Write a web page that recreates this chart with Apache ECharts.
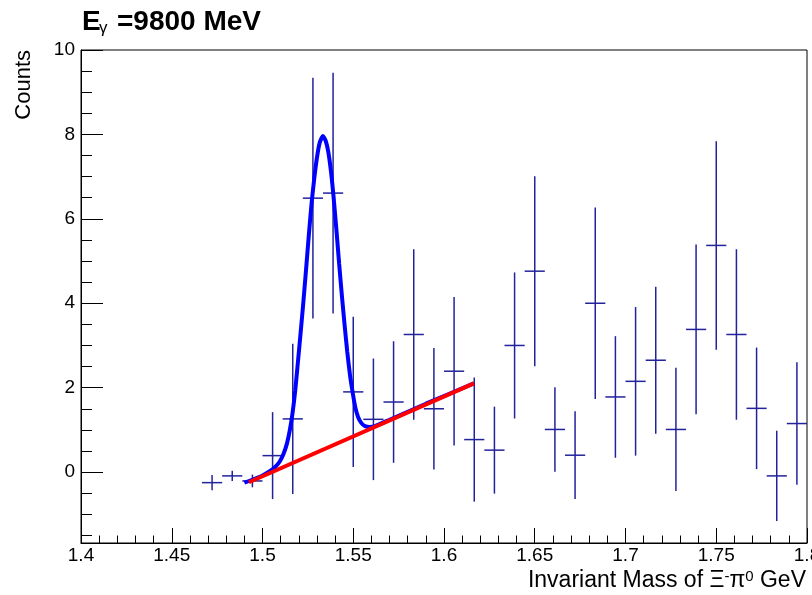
<!DOCTYPE html>
<html><head><meta charset="utf-8">
<script src="https://cdn.jsdelivr.net/npm/echarts@6/dist/echarts.min.js"></script>
<style>html,body{margin:0;padding:0;background:#fff}#c{width:812px;height:595px}</style>
</head><body><div id="c"></div>
<script>
// ---- axis ranges and tick labels ----
const xMin = 1.4, xMax = 1.8, yMin = -1.68, yMax = 10;
const xTickValues = [1.4, 1.45, 1.5, 1.55, 1.6, 1.65, 1.7, 1.75, 1.8];
const xTickLabels = ['1.4', '1.45', '1.5', '1.55', '1.6', '1.65', '1.7', '1.75', '1.8'];
const xMinorTickValues = [1.41,1.42,1.43,1.44,1.46,1.47,1.48,1.49,1.51,1.52,1.53,1.54,1.56,1.57,1.58,1.59,1.61,1.62,1.63,1.64,1.66,1.67,1.68,1.69,1.71,1.72,1.73,1.74,1.76,1.77,1.78,1.79];
const yTickValues = [0, 2, 4, 6, 8, 10];
const yTickLabels = ['0', '2', '4', '6', '8', '10'];
const yMinorTickValues = [-1.5,-1,-0.5,0.5,1,1.5,2.5,3,3.5,4.5,5,5.5,6.5,7,7.5,8.5,9,9.5];

// ---- histogram (bin centres, contents, errors) ----
const binHalfWidth = 0.005556;
const binCenters = [1.47222, 1.48333, 1.49444, 1.50556, 1.51667, 1.52778, 1.53889, 1.55, 1.56111, 1.57222,
  1.58333, 1.59444, 1.60556, 1.61667, 1.62778, 1.63889, 1.65, 1.66111, 1.67222, 1.68333,
  1.69444, 1.70556, 1.71667, 1.72778, 1.73889, 1.75, 1.76111, 1.77222, 1.78333, 1.79444];
const counts = [-0.25, -0.09, -0.21, 0.39, 1.26, 6.49, 6.61, 1.90, 1.25, 1.66,
  3.26, 1.50, 2.39, 0.77, 0.52, 3.00, 4.76, 1.01, 0.40, 4.00,
  1.78, 2.15, 2.65, 1.01, 3.38, 5.37, 3.26, 1.51, -0.09, 1.15];
const countErrors = [0.18, 0.12, 0.15, 1.03, 1.78, 2.85, 2.85, 1.78, 1.44, 1.44,
  2.02, 1.44, 1.76, 1.47, 1.03, 1.73, 2.25, 1.00, 1.04, 2.27,
  1.44, 1.76, 1.74, 1.46, 2.01, 2.47, 2.02, 1.44, 1.07, 1.45];

// ---- fit curves ----
const fitTotal = [[1.4900,-0.25],[1.4950,-0.17],[1.5000,-0.08],[1.5040,0.02],[1.5070,0.12],[1.5095,0.25],
  [1.5115,0.42],[1.5135,0.68],[1.5150,0.98],[1.5165,1.38],[1.5180,1.92],[1.5195,2.60],[1.5210,3.30],
  [1.5225,4.02],[1.5240,4.80],[1.5255,5.60],[1.5270,6.35],[1.5285,6.95],[1.5300,7.45],[1.5315,7.80],
  [1.5333,7.96],[1.5348,7.85],[1.5362,7.60],[1.5378,7.10],[1.5392,6.50],[1.5407,5.75],[1.5422,4.95],
  [1.5437,4.20],[1.5452,3.50],[1.5467,2.85],[1.5482,2.30],[1.5497,1.88],[1.5512,1.52],[1.5527,1.30],
  [1.5545,1.16],[1.5565,1.09],[1.5590,1.07],[1.5620,1.09],[1.5700,1.24],[1.5900,1.62],[1.6165,2.10]];
const fitBackground = [[1.4925,-0.24],[1.6165,2.10]];

const errData = binCenters.map((x, i) => [x, counts[i], countErrors[i]]);
const FONT = 'Liberation Sans, Arial, Helvetica, sans-serif';
const barColor = '#22229c';

function labelFor(values, labels) {
  return v => { for (let i = 0; i < values.length; i++) if (Math.abs(values[i] - v) < 1e-9) return labels[i]; return ''; };
}

const chart = echarts.init(document.getElementById('c'), null, {renderer: 'canvas'});
chart.setOption({
  animation: false,
  backgroundColor: '#fff',
  grid: [
    {left: 81, right: 5, top: 50, bottom: 52, show: true, borderColor: '#000', borderWidth: 1, outerBoundsMode: 'none'},
    {left: 81, right: 5, top: 50, bottom: 52, show: false, outerBoundsMode: 'none'}
  ],
  xAxis: [
    {type: 'value', gridIndex: 0, min: xMin, max: xMax, position: 'bottom',
     axisLine: {show: true, onZero: false, lineStyle: {color: '#000', width: 1}},
     axisTick: {show: true, inside: true, length: 15, customValues: xTickValues, lineStyle: {color: '#000', width: 1}},
     axisLabel: {show: true, customValues: xTickValues, formatter: labelFor(xTickValues, xTickLabels),
       fontSize: 19, color: '#000', fontFamily: FONT, margin: 3, hideOverlap: false},
     splitLine: {show: false}},
    {type: 'value', gridIndex: 1, min: xMin, max: xMax, position: 'bottom',
     axisLine: {show: false, onZero: false},
     axisTick: {show: true, inside: true, length: 7.5, customValues: xMinorTickValues, lineStyle: {color: '#000', width: 1}},
     axisLabel: {show: false}, splitLine: {show: false}}
  ],
  yAxis: [
    {type: 'value', gridIndex: 0, min: yMin, max: yMax, position: 'left',
     axisLine: {show: true, onZero: false, lineStyle: {color: '#000', width: 1}},
     axisTick: {show: true, inside: true, length: 22, customValues: yTickValues, lineStyle: {color: '#000', width: 1}},
     axisLabel: {show: true, customValues: yTickValues, formatter: labelFor(yTickValues, yTickLabels),
       fontSize: 19, color: '#000', fontFamily: FONT, margin: 6},
     splitLine: {show: false}},
    {type: 'value', gridIndex: 1, min: yMin, max: yMax, position: 'left',
     axisLine: {show: false, onZero: false},
     axisTick: {show: true, inside: true, length: 11, customValues: yMinorTickValues, lineStyle: {color: '#000', width: 1}},
     axisLabel: {show: false}, splitLine: {show: false}}
  ],
  series: [
    {type: 'custom', xAxisIndex: 0, yAxisIndex: 0, data: errData, clip: true, z: 2,
     renderItem: function (params, api) {
       const x = api.value(0), y = api.value(1), e = api.value(2);
       const l = api.coord([x - binHalfWidth, y]), r = api.coord([x + binHalfWidth, y]);
       const t = api.coord([x, y + e]), b = api.coord([x, y - e]);
       const st = {stroke: barColor, lineWidth: 1.5, fill: null};
       return {type: 'group', children: [
         {type: 'line', shape: {x1: l[0], y1: l[1], x2: r[0], y2: r[1]}, style: st},
         {type: 'line', shape: {x1: t[0], y1: t[1], x2: b[0], y2: b[1]}, style: st}
       ]};
     }},
    {type: 'line', xAxisIndex: 0, yAxisIndex: 0, data: fitTotal, showSymbol: false, smooth: 0.2, z: 3,
     lineStyle: {color: '#0000ff', width: 4}, itemStyle: {color: '#0000ff'}},
    {type: 'line', xAxisIndex: 0, yAxisIndex: 0, data: fitBackground, showSymbol: false, z: 4,
     lineStyle: {color: '#ff0000', width: 4}, itemStyle: {color: '#ff0000'}},
    {type: 'scatter', xAxisIndex: 1, yAxisIndex: 1, data: []}
  ],
  graphic: [
    {type: 'text', x: 82, y: 22, style: {text: 'E', font: 'bold 28px ' + FONT, fill: '#000', verticalAlign: 'middle'}},
    {type: 'text', x: 99, y: 28, style: {text: 'γ', font: '17px ' + FONT, fill: '#000', verticalAlign: 'middle'}},
    {type: 'text', x: 117, y: 22, style: {text: '=9800 MeV', font: 'bold 28px ' + FONT, fill: '#000', verticalAlign: 'middle'}},
    {type: 'text', x: 24, y: 50, rotation: Math.PI / 2,
     style: {text: 'Counts', font: '22px ' + FONT, fill: '#000', align: 'right', verticalAlign: 'middle'}},
    {type: 'text', x: 806, y: 581,
     style: {text: '{n|Invariant Mass of Ξ}{s|-}{n|π}{s|0}{n| GeV}', align: 'right', verticalAlign: 'middle',
       rich: {n: {fontSize: 23, fontFamily: FONT, fill: '#000', color: '#000'},
              s: {fontSize: 15, fontFamily: FONT, fill: '#000', color: '#000', verticalAlign: 'top'}}}}
  ]
});
</script></body></html>
